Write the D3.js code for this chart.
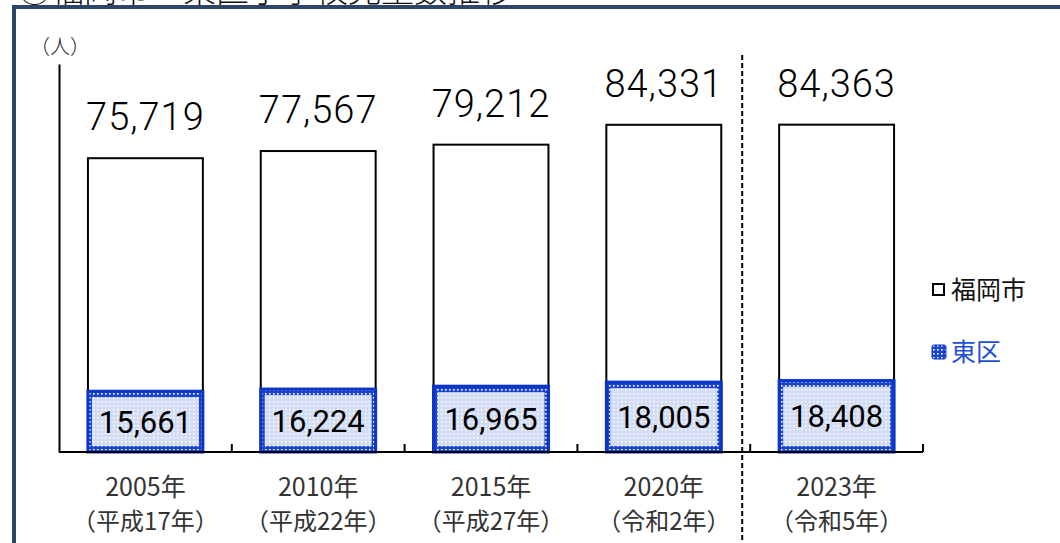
<!DOCTYPE html>
<html>
<head>
<meta charset="utf-8">
<script src="https://cdn.jsdelivr.net/npm/d3@7"></script>
<style>
  html, body { margin: 0; padding: 0; background: #fff; }
  svg { display: block; font-family: "Noto Sans CJK JP", "Noto Sans", sans-serif; }
  .num { font-family: Roboto, "Noto Sans", sans-serif; font-weight: 300; }
  .num.inner { font-weight: 400; }
  .lab { font-weight: 300; }
</style>
</head>
<body>
<div id="chart"></div>
<script>
// data
const years    = ["2005年", "2010年", "2015年", "2020年", "2023年"];
const eras     = ["（平成17年）", "（平成22年）", "（平成27年）", "（令和2年）", "（令和5年）"];
const fukuoka  = [75719, 77567, 79212, 84331, 84363];
const higashi  = [15661, 16224, 16965, 18005, 18408];
const seriesNames = ["福岡市", "東区"];

const fmt = d3.format(",");
const width = 1060, height = 543;

const svg = d3.select("#chart").append("svg")
  .attr("width", width).attr("height", height);

// patterns
const defs = svg.append("defs");
const light = defs.append("pattern").attr("id", "pLight")
  .attr("patternUnits", "userSpaceOnUse").attr("width", 4).attr("height", 4);
light.append("rect").attr("width", 4).attr("height", 4).attr("fill", "#d2dcf5");
light.append("rect").attr("x", 1).attr("y", 1).attr("width", 1.5).attr("height", 1.5).attr("fill", "#fff");

const dark = defs.append("pattern").attr("id", "pDark")
  .attr("patternUnits", "userSpaceOnUse").attr("width", 4).attr("height", 4);
dark.append("rect").attr("width", 4).attr("height", 4).attr("fill", "#1a43d0");
dark.append("rect").attr("x", 1).attr("y", 1).attr("width", 1.6).attr("height", 1.6).attr("fill", "#fff");

// frame + cut title (cut off at the top like the source)
svg.append("text")
  .attr("class", "lab")
  .attr("x", 18).attr("y", 2)
  .attr("font-size", 33).attr("fill", "#111")
  .text("⑤福岡市・東区小学校児童数推移");
svg.append("rect")
  .attr("x", 14).attr("y", 7).attr("width", width + 20).attr("height", height + 20)
  .attr("fill", "none").attr("stroke", "#2d4569").attr("stroke-width", 4);

// scales
const x = d3.scaleBand().domain(years)
  .range([59, 923]).paddingInner(0.335).paddingOuter(0.1675);
const y = d3.scaleLinear().domain([0, 100000]).range([452, 64]);

// unit
svg.append("text").attr("class", "lab").attr("x", 60).attr("y", 54)
  .attr("text-anchor", "middle").attr("font-size", 20).attr("fill", "#222")
  .text("（人）");

// y axis (line only)
svg.append("g").attr("transform", "translate(59,0)")
  .call(d3.axisLeft(y).tickValues([]).tickSizeOuter(0))
  .select(".domain").attr("stroke", "#000").attr("stroke-width", 2);

// 福岡市 bars
svg.append("g").selectAll("rect")
  .data(fukuoka)
  .join("rect")
  .attr("x", (d, i) => x(years[i]))
  .attr("y", d => y(d))
  .attr("width", x.bandwidth())
  .attr("height", d => y(0) - y(d))
  .attr("fill", "#fff").attr("stroke", "#000").attr("stroke-width", 2);

// 東区 bars
const hg = svg.append("g").selectAll("g")
  .data(higashi)
  .join("g");
hg.append("rect")
  .attr("x", (d, i) => x(years[i]))
  .attr("y", d => y(d))
  .attr("width", x.bandwidth())
  .attr("height", d => y(0) - y(d))
  .attr("fill", "url(#pDark)").attr("stroke", "#0a35c8").attr("stroke-width", 3);
hg.append("rect")
  .attr("x", (d, i) => x(years[i]) + 4)
  .attr("y", d => y(d) + 6)
  .attr("width", x.bandwidth() - 8)
  .attr("height", d => y(0) - y(d) - 12)
  .attr("fill", "url(#pLight)");
hg.append("text")
  .attr("class", "num inner")
  .attr("x", (d, i) => x(years[i]) + x.bandwidth() / 2)
  .attr("y", d => (y(d) + y(0)) / 2 + 11)
  .attr("text-anchor", "middle").attr("font-size", 31).attr("fill", "#000")
  .text(d => fmt(d));

// totals
svg.append("g").selectAll("text")
  .data(fukuoka)
  .join("text")
  .attr("class", "num")
  .attr("x", (d, i) => x(years[i]) + x.bandwidth() / 2)
  .attr("y", d => y(d) - 28)
  .attr("text-anchor", "middle").attr("font-size", 38).attr("fill", "#000")
  .attr("letter-spacing", 1)
  .text(d => fmt(d));

// x axis baseline + boundary ticks
svg.append("line")
  .attr("x1", 59).attr("x2", 923).attr("y1", y(0)).attr("y2", y(0))
  .attr("stroke", "#000").attr("stroke-width", 2);
svg.append("g").selectAll("line")
  .data(d3.range(1, years.length + 1))
  .join("line")
  .attr("x1", i => 59 + i * x.step()).attr("x2", i => 59 + i * x.step())
  .attr("y1", y(0)).attr("y2", y(0) - 8)
  .attr("stroke", "#000").attr("stroke-width", 2);

// category labels
const cat = svg.append("g").selectAll("g")
  .data(years)
  .join("g")
  .attr("transform", d => `translate(${x(d) + x.bandwidth() / 2},0)`);
cat.append("text").attr("y", 496).attr("text-anchor", "middle")
  .attr("font-size", 25).attr("fill", "#333").text(d => d);
cat.append("text").attr("y", 530).attr("text-anchor", "middle")
  .attr("font-size", 24).attr("fill", "#333").text((d, i) => eras[i]);

// dashed separator
const sepX = 59 + 4 * x.step() - 8;
svg.append("line")
  .attr("x1", sepX).attr("x2", sepX).attr("y1", 55).attr("y2", height)
  .attr("stroke", "#000").attr("stroke-width", 2).attr("stroke-dasharray", "5,3");

// legend
const lg = svg.append("g").attr("transform", "translate(932,0)");
lg.append("rect").attr("x", 1).attr("y", 284).attr("width", 11).attr("height", 11)
  .attr("fill", "#fff").attr("stroke", "#000").attr("stroke-width", 2);
lg.append("text").attr("x", 19).attr("y", 299).attr("font-size", 25).attr("fill", "#111")
  .text(seriesNames[0]);
lg.append("rect").attr("x", 0).attr("y", 345).attr("width", 14).attr("height", 14).attr("rx", 2)
  .attr("fill", "url(#pDark)").attr("stroke", "#0a35c8").attr("stroke-width", 1);
lg.append("text").attr("x", 19).attr("y", 361).attr("font-size", 25).attr("fill", "#1f4fd8")
  .text(seriesNames[1]);
</script>
</body>
</html>
